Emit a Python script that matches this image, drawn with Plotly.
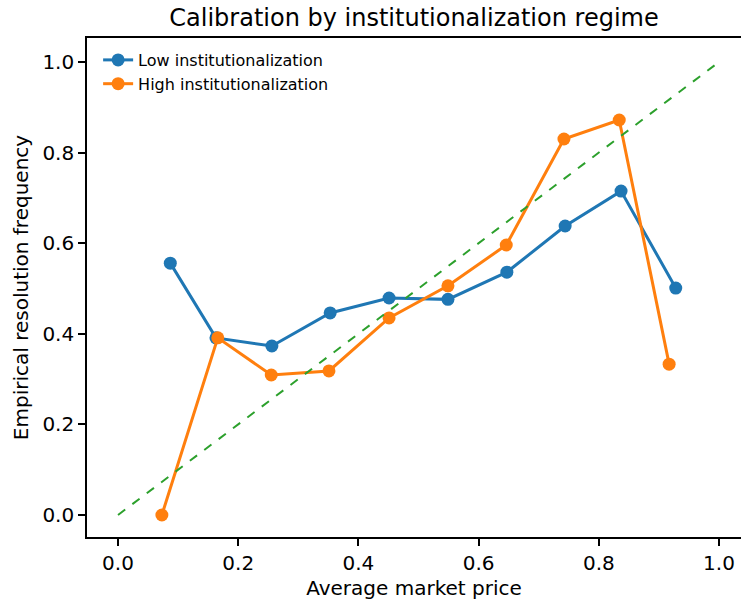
import plotly.graph_objects as go

low_x = [0.087, 0.163, 0.256, 0.353, 0.451, 0.549, 0.647, 0.744, 0.837, 0.928]
low_y = [0.556, 0.391, 0.373, 0.446, 0.479, 0.476, 0.536, 0.638, 0.715, 0.501]
high_x = [0.073, 0.166, 0.255, 0.351, 0.451, 0.549, 0.646, 0.742, 0.834, 0.917]
high_y = [0.0, 0.391, 0.309, 0.318, 0.435, 0.506, 0.596, 0.830, 0.872, 0.333]
diag = [0.0, 1.0]
ticks = [0.0, 0.2, 0.4, 0.6, 0.8, 1.0]
tick_text = ["0.0", "0.2", "0.4", "0.6", "0.8", "1.0"]

fig = go.Figure()
fig.add_trace(go.Scatter(x=low_x, y=low_y, mode="lines+markers", name="Low institutionalization",
                         line=dict(color="#1f77b4", width=3), marker=dict(size=13, color="#1f77b4")))
fig.add_trace(go.Scatter(x=high_x, y=high_y, mode="lines+markers", name="High institutionalization",
                         line=dict(color="#ff7f0e", width=3), marker=dict(size=13, color="#ff7f0e")))
fig.add_trace(go.Scatter(x=diag, y=diag, mode="lines", showlegend=False,
                         line=dict(color="#2ca02c", width=2, dash="dash")))

fig.update_layout(
    width=742, height=600,
    margin=dict(l=87, r=1, t=38, b=63, autoexpand=False),
    paper_bgcolor="white", plot_bgcolor="white",
    font=dict(family="DejaVu Sans", color="black"),
    title=dict(text="Calibration by institutionalization regime", x=0.5,
               xref="paper", y=1 - 18 / 600, yanchor="middle", font=dict(size=24)),
    legend=dict(x=0.017, y=0.99, xanchor="left", yanchor="top", bgcolor="rgba(0,0,0,0)",
                font=dict(size=16), tracegroupgap=0),
    showlegend=True,
)
fig.update_xaxes(range=[-0.0516, 1.0366], tickvals=ticks, ticktext=tick_text, automargin=False,
                 showgrid=False, zeroline=False, showline=True, linecolor="black", linewidth=1.6,
                 mirror=True, ticks="outside", ticklen=7, tickwidth=1.6, tickcolor="black",
                 tickfont=dict(size=20),
                 title=dict(text="Average market price", font=dict(size=20), standoff=8))
fig.update_yaxes(range=[-0.0486, 1.053], tickvals=ticks, ticktext=tick_text, automargin=False,
                 showgrid=False, zeroline=False, showline=True, linecolor="black", linewidth=1.6,
                 ticks="outside", ticklen=7, tickwidth=1.6, tickcolor="black",
                 tickfont=dict(size=20),
                 title=dict(text="Empirical resolution frequency", font=dict(size=20), standoff=8))

fig.write_html("out.html", config={"displayModeBar": False},
               post_script="document.body.style.margin='0';document.body.style.overflow='hidden';")
